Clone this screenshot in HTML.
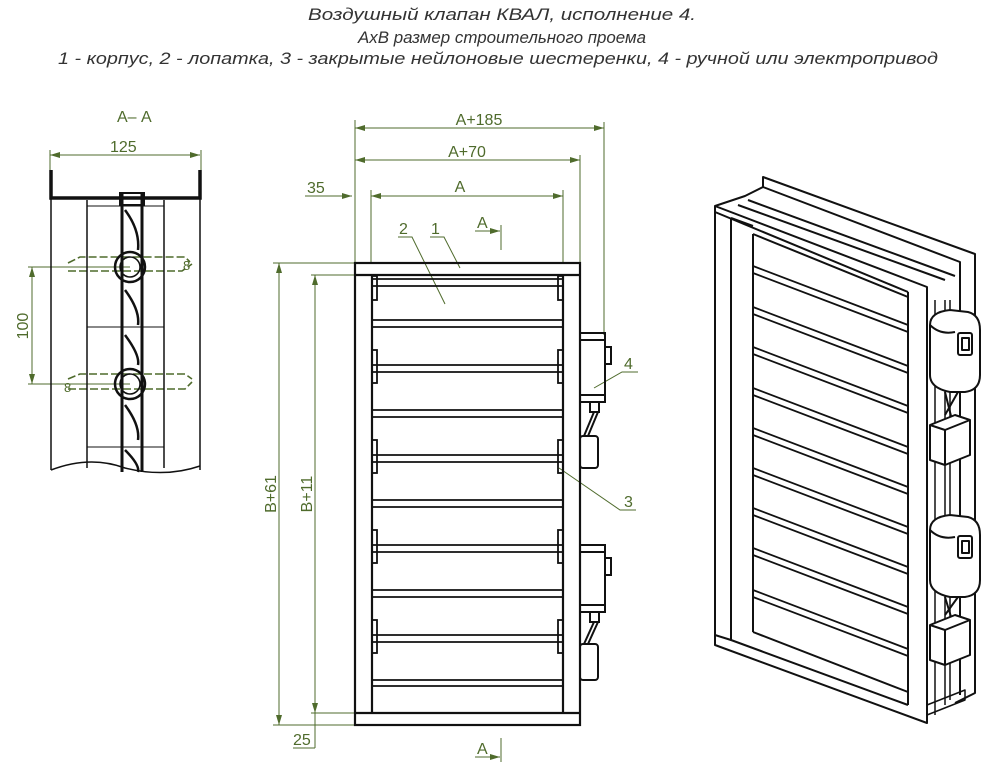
<!DOCTYPE html>
<html><head><meta charset="utf-8"><style>
html,body{margin:0;padding:0;background:#fff;}
svg{display:block;}
text{font-family:"Liberation Sans",sans-serif;}
</style></head><body>
<svg width="1000" height="764" viewBox="0 0 1000 764" xmlns="http://www.w3.org/2000/svg">
<defs>
<marker id="ar" viewBox="0 0 10 6" refX="10" refY="3" markerWidth="10" markerHeight="6" orient="auto-start-reverse" markerUnits="userSpaceOnUse"><path d="M0,0 L10,3 L0,6 z" fill="#4f6b2c"/></marker>
</defs>
<!-- Title -->
<g font-style="italic" font-size="17" fill="#333" text-anchor="start">
<text x="308" y="20" textLength="388" lengthAdjust="spacingAndGlyphs">Воздушный клапан КВАЛ, исполнение 4.</text>
<text x="358" y="43" textLength="288" lengthAdjust="spacingAndGlyphs">АхВ размер строительного проема</text>
<text x="58" y="64" textLength="880" lengthAdjust="spacingAndGlyphs">1 - корпус, 2 - лопатка, 3 - закрытые нейлоновые шестеренки, 4 - ручной или электропривод</text>
</g>

<!-- ===== Section A-A ===== -->
<g stroke="#4f6b2c" stroke-width="1" fill="none">
<line x1="50" y1="155" x2="200" y2="155" marker-start="url(#ar)" marker-end="url(#ar)"/>
<line x1="50" y1="150" x2="50" y2="172"/><line x1="201" y1="150" x2="201" y2="172"/>
<line x1="28" y1="267" x2="130" y2="267"/><line x1="28" y1="384" x2="130" y2="384"/>
<line x1="32" y1="267" x2="32" y2="384" marker-start="url(#ar)" marker-end="url(#ar)"/>
<path d="M68,263 L80,257 L185,257 L190,262 M68,271 L182,271 L192,264" stroke-dasharray="8,3" stroke-width="1.6"/>
<path d="M68,379 L80,374 L185,374 L192,379 M68,389 L185,389 L192,382" stroke-dasharray="8,3" stroke-width="1.6"/>
</g>
<g fill="#4f6b2c" font-size="16">
<text x="117" y="122">А– А</text>
<text x="110" y="152">125</text>
<text x="28" y="326" transform="rotate(-90 28 326)" text-anchor="middle">100</text>
<text x="183" y="270" font-size="13">8</text>
<text x="64" y="392" font-size="13">8</text>
</g>
<g stroke="#111" fill="none">
<path d="M51,170 V198 H200 V170" stroke-width="3.5"/>
<line x1="51" y1="198" x2="51" y2="470" stroke-width="1.5"/>
<line x1="200" y1="198" x2="200" y2="470" stroke-width="1.5"/>
<line x1="87" y1="200" x2="87" y2="468" stroke-width="1.5"/>
<line x1="164" y1="200" x2="164" y2="468" stroke-width="1.5"/>
<line x1="122" y1="193" x2="122" y2="472" stroke-width="3"/>
<line x1="142" y1="193" x2="142" y2="472" stroke-width="3"/>
<rect x="120" y="193" width="24" height="12" stroke-width="2"/>
<line x1="87" y1="206" x2="164" y2="206" stroke-width="1"/>
<line x1="87" y1="327" x2="164" y2="327" stroke-width="1"/>
<line x1="87" y1="447" x2="164" y2="447" stroke-width="1"/>
<path d="M125,210 Q140,230 138,250 M125,290 Q140,310 138,325 M125,335 Q140,355 138,365 M125,405 Q140,425 138,440 M125,450 Q140,465 138,472" stroke-width="2.5"/>
<circle cx="130" cy="267" r="15" stroke-width="2.5"/><circle cx="130" cy="267" r="10" stroke-width="1.5"/>
<circle cx="130" cy="384" r="15" stroke-width="2.5"/><circle cx="130" cy="384" r="10" stroke-width="1.5"/>
<path d="M51,470 Q90,455 125,468 Q165,478 200,466" stroke-width="1.5"/>
</g>

<!-- ===== Front view dims ===== -->
<g stroke="#4f6b2c" stroke-width="1" fill="none">
<line x1="355" y1="120" x2="355" y2="263"/>
<line x1="371" y1="190" x2="371" y2="263"/>
<line x1="604" y1="122" x2="604" y2="335"/>
<line x1="580" y1="155" x2="580" y2="263"/>
<line x1="563" y1="190" x2="563" y2="263"/>
<line x1="355" y1="128" x2="604" y2="128" marker-start="url(#ar)" marker-end="url(#ar)"/>
<line x1="355" y1="160" x2="580" y2="160" marker-start="url(#ar)" marker-end="url(#ar)"/>
<line x1="371" y1="196" x2="563" y2="196" marker-start="url(#ar)" marker-end="url(#ar)"/>
<line x1="305" y1="196" x2="352" y2="196" marker-end="url(#ar)"/>
<line x1="475" y1="231" x2="500" y2="231" marker-end="url(#ar)"/>
<line x1="501" y1="225" x2="501" y2="250"/>
<line x1="475" y1="757" x2="500" y2="757" marker-end="url(#ar)"/>
<line x1="501" y1="738" x2="501" y2="762"/>
<line x1="273" y1="263" x2="355" y2="263"/><line x1="273" y1="725" x2="355" y2="725"/>
<line x1="279" y1="263" x2="279" y2="725" marker-start="url(#ar)" marker-end="url(#ar)"/>
<line x1="311" y1="275" x2="355" y2="275"/><line x1="311" y1="713" x2="355" y2="713"/>
<line x1="315" y1="275" x2="315" y2="713" marker-start="url(#ar)" marker-end="url(#ar)"/>
<line x1="315" y1="713" x2="315" y2="748"/>
<line x1="293" y1="748" x2="315" y2="748"/>
<path d="M398,237 H412 L445,304"/>
<path d="M430,237 H444 L460,268"/>
<path d="M594,388 L622,372 H638"/>
<path d="M559,468 L620,510 H636"/>
</g>
<g fill="#4f6b2c" font-size="16">
<text x="479" y="125" text-anchor="middle">А+185</text>
<text x="467" y="157" text-anchor="middle">А+70</text>
<text x="460" y="192" text-anchor="middle">А</text>
<text x="307" y="193">35</text>
<text x="477" y="228">А</text>
<text x="477" y="754">А</text>
<text x="399" y="234">2</text>
<text x="431" y="234">1</text>
<text x="624" y="369">4</text>
<text x="624" y="507">3</text>
<text x="293" y="745">25</text>
<text x="276" y="494" transform="rotate(-90 276 494)" text-anchor="middle">В+61</text>
<text x="312" y="494" transform="rotate(-90 312 494)" text-anchor="middle">В+11</text>
</g>

<!-- ===== Front view body ===== -->
<g stroke="#111" fill="none" stroke-width="2.2">
<rect x="355" y="263" width="225" height="462"/>
<line x1="355" y1="275" x2="580" y2="275"/>
<line x1="355" y1="713" x2="580" y2="713"/>
<line x1="372" y1="275" x2="372" y2="713"/>
<line x1="563" y1="275" x2="563" y2="713"/>
<g stroke-width="1.8">
<path d="M372,279 H563 M372,286 H563"/>
<path d="M372,320 H563 M372,327 H563"/>
<path d="M372,365 H563 M372,372 H563"/>
<path d="M372,410 H563 M372,417 H563"/>
<path d="M372,455 H563 M372,462 H563"/>
<path d="M372,500 H563 M372,507 H563"/>
<path d="M372,545 H563 M372,552 H563"/>
<path d="M372,590 H563 M372,597 H563"/>
<path d="M372,635 H563 M372,642 H563"/>
<path d="M372,680 H563 M372,686 H563"/>
</g>
<g stroke-width="1.8">
<rect x="372" y="276" width="5" height="24"/><rect x="558" y="276" width="5" height="24"/>
<rect x="372" y="350" width="5" height="33"/><rect x="558" y="350" width="5" height="33"/>
<rect x="372" y="440" width="5" height="33"/><rect x="558" y="440" width="5" height="33"/>
<rect x="372" y="530" width="5" height="33"/><rect x="558" y="530" width="5" height="33"/>
<rect x="372" y="620" width="5" height="33"/><rect x="558" y="620" width="5" height="33"/>
</g>
<!-- actuators -->
<g stroke-width="2">
<rect x="580" y="333" width="25" height="69"/><line x1="580" y1="340" x2="605" y2="340"/><line x1="580" y1="395" x2="605" y2="395"/>
<rect x="605" y="347" width="6" height="17"/>
<rect x="590" y="402" width="9" height="10"/>
<path d="M594,412 L584,436 M598,412 L588,436"/>
<rect x="580" y="436" width="18" height="32" rx="3"/>
<rect x="580" y="545" width="25" height="67"/><line x1="580" y1="552" x2="605" y2="552"/><line x1="580" y1="605" x2="605" y2="605"/>
<rect x="605" y="558" width="6" height="17"/>
<rect x="590" y="612" width="9" height="10"/>
<path d="M594,622 L584,644 M598,622 L588,644"/>
<rect x="580" y="644" width="18" height="36" rx="3"/>
</g>
</g>

<!-- ===== 3D view ===== -->
<g stroke="#111" fill="none" stroke-width="2" stroke-linejoin="round">
<!-- back flange -->
<path d="M763,187 V177 L975,254 V693 L955,703"/>
<path d="M763,187 L960,262 V695"/>
<path d="M715,206 L745,196 L763,187"/>
<path d="M738,205 L945,280"/>
<path d="M748,200 L955,276"/>
<!-- front frame -->
<path d="M715,206 V645 L927,723 V287 Z" fill="#fff"/>
<path d="M715,212 L908,292"/>
<path d="M731,218 V640 L908,705"/>
<path d="M753,234 V632"/>
<path d="M731,218 L753,226 M753,234 L908,297"/>
<path d="M908,292 V705"/>
<path d="M715,635 L731,640"/>
<path d="M753,632 L908,692"/>
<!-- blades -->
<g stroke-width="1.8">
<path d="M753,266 L908,325 M753,273 L908,332"/>
<path d="M753,307 L908,366 M753,314 L908,373"/>
<path d="M753,347 L908,406 M753,354 L908,413"/>
<path d="M753,388 L908,447 M753,395 L908,454"/>
<path d="M753,428 L908,487 M753,435 L908,494"/>
<path d="M753,468 L908,527 M753,475 L908,534"/>
<path d="M753,508 L908,567 M753,515 L908,574"/>
<path d="M753,548 L908,607 M753,555 L908,614"/>
<path d="M753,590 L908,649 M753,597 L908,656"/>
</g>
<!-- side rails -->
<path d="M935,300 V715 M945,300 V705 M950,300 V700" stroke-width="1.5"/>
<path d="M927,705 L965,690 V700 L927,715" stroke-width="1.5"/>
<!-- actuator 1 -->
<path d="M930,325 Q930,312 950,310 L968,312 Q980,315 980,330 V375 Q980,390 965,392 L950,392 Q930,388 930,375 Z" fill="#fff"/>
<path d="M930,325 Q940,335 955,332"/>
<rect x="958" y="333" width="14" height="22" rx="2" fill="#fff"/><rect x="962" y="338" width="7" height="12"/>
<path d="M945,392 L952,420 M958,392 L945,415"/>
<path d="M930,425 L955,415 L970,420 V455 L945,465 L930,460 Z" fill="#fff"/>
<path d="M930,425 L945,430 L970,420 M945,430 V465"/>
<!-- actuator 2 -->
<path d="M930,530 Q930,517 950,515 L968,517 Q980,520 980,535 V580 Q980,595 965,597 L950,597 Q930,593 930,580 Z" fill="#fff"/>
<path d="M930,530 Q940,540 955,537"/>
<rect x="958" y="536" width="14" height="22" rx="2" fill="#fff"/><rect x="962" y="541" width="7" height="12"/>
<path d="M945,597 L952,620 M958,597 L945,615"/>
<path d="M930,625 L955,615 L970,620 V655 L945,665 L930,660 Z" fill="#fff"/>
<path d="M930,625 L945,630 L970,620 M945,630 V665"/>
</g>
</svg>
</body></html>
